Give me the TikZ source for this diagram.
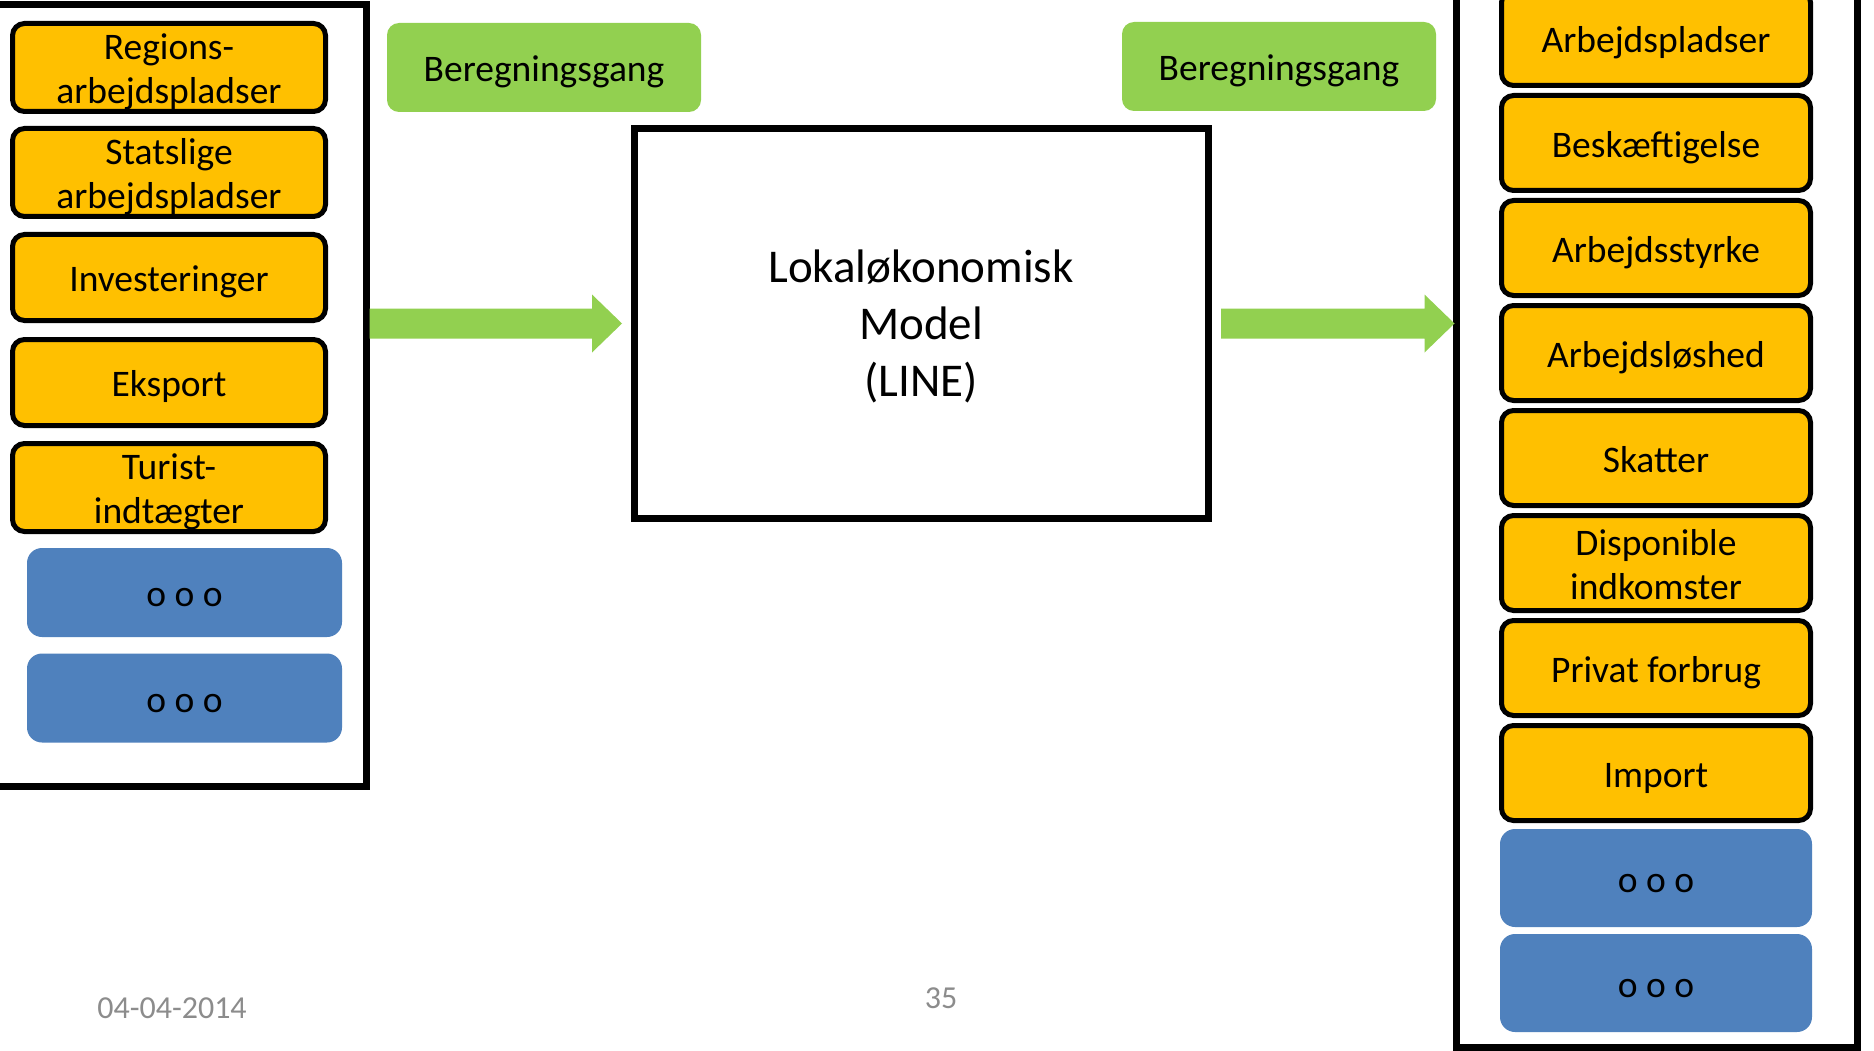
\documentclass[tikz,border=0pt]{standalone}
\usepackage{fontspec}
\setmainfont{Carlito}
\usetikzlibrary{calc}
\definecolor{boxyellow}{HTML}{FFC000}
\definecolor{boxblue}{HTML}{4F81BD}
\definecolor{boxgreen}{HTML}{92D050}
\definecolor{footgray}{HTML}{8C8C8C}
\newcommand{\boxtext}[2][-5.5pt]{\raisebox{#1}[\height][\depth]{\begin{tabular}{@{}c@{}}#2\end{tabular}}}
\tikzset{
  invar/.style={draw=black, line width=5pt, fill=boxyellow, rounded corners=12pt,
    minimum width=313pt, minimum height=86pt, inner sep=0pt,
    font=\fontsize{37.5}{44}\selectfont},
  outvar/.style={invar, minimum width=309pt, minimum height=95pt},
  dotsbox/.style={fill=boxblue, rounded corners=15pt, minimum width=315pt,
    minimum height=89pt, inner sep=0pt, font=\fontsize{37.5}{44}\selectfont},
  outerframe/.style={draw=black, line width=7pt, inner sep=0pt},
  calcbox/.style={fill=boxgreen, rounded corners=12pt, minimum width=314pt,
    minimum height=89pt, inner sep=0pt, font=\fontsize{37.5}{44}\selectfont},
  modelbox/.style={draw=black, line width=7pt, minimum width=574pt, minimum height=390pt,
    inner sep=0pt, font=\fontsize{47}{57}\selectfont},
  foot/.style={text=footgray, inner sep=0pt, font=\fontsize{32}{38}\selectfont},
  bigarrow/.style={fill=boxgreen}
}
\newcommand{\blockarrow}[2]{%
  \fill[bigarrow] ($(#1)+(0,-15)$) -- ($(#2)+(-30,-15)$) -- ($(#2)+(-30,-29)$) --
    (#2) -- ($(#2)+(-30,29)$) -- ($(#2)+(-30,15)$) -- ($(#1)+(0,15)$) -- cycle;}
\begin{document}
\begin{tikzpicture}[x=1pt, y=-1pt]
\useasboundingbox (0,0) rectangle (1874,1051);
\clip (0,0) rectangle (1874,1051);
\fill[white] (0,0) rectangle (1874,1051);

% outer frames
\node[outerframe, minimum width=386pt, minimum height=781pt] (leftframe) at (173,395.5) {};
\node[outerframe, minimum width=401pt, minimum height=1067pt] (rightframe) at (1656.5,513.5) {};

% inputs
\node[invar] (in1) at (169,67.5) {\boxtext{Regions-\\arbejdspladser}};
\node[invar] (in2) at (169,172.5) {\boxtext{Statslige\\arbejdspladser}};
\node[invar] (in3) at (169,277.5) {\boxtext{Investeringer}};
\node[invar] (in4) at (169,382.5) {\boxtext{Eksport}};
\node[invar] (in5) at (169,487.5) {\boxtext{Turist-\\indtægter}};
\node[dotsbox] (in6) at (184.5,592.5) {\boxtext{o o o}};
\node[dotsbox] (in7) at (184.5,698) {\boxtext{o o o}};

% outputs
\node[outvar] (out1) at (1656,38) {\boxtext{Arbejdspladser}};
\node[outvar] (out2) at (1656,143) {\boxtext{Beskæftigelse}};
\node[outvar] (out3) at (1656,248) {\boxtext{Arbejdsstyrke}};
\node[outvar] (out4) at (1656,353) {\boxtext{Arbejdsløshed}};
\node[outvar] (out5) at (1656,458) {\boxtext{Skatter}};
\node[outvar] (out6) at (1656,563) {\boxtext{Disponible\\indkomster}};
\node[outvar] (out7) at (1656,668) {\boxtext{Privat forbrug}};
\node[outvar] (out8) at (1656,773) {\boxtext{Import}};
\node[dotsbox, minimum width=312pt, minimum height=98pt] (out9) at (1656,878) {\boxtext{o o o}};
\node[dotsbox, minimum width=312pt, minimum height=98pt] (out10) at (1656,983) {\boxtext{o o o}};

% labels
\node[calcbox] (calcL) at (544,67.5) {\boxtext{Beregningsgang}};
\node[calcbox] (calcR) at (1279,66.5) {\boxtext{Beregningsgang}};

% model
\node[modelbox] (model) at (921,323.5) {\boxtext[-5pt]{Lokaløkonomisk\\Model\\(LINE)}};

% arrows
\coordinate (la) at (leftframe.east |- model.west);
\coordinate (lb) at ($(model.west)+(-8.5,0)$);
\coordinate (ra) at ($(model.east)+(9.5,0)$);
\coordinate (rb) at ($(rightframe.west |- model.east)+(2,0)$);
\blockarrow{la}{lb}
\blockarrow{ra}{rb}

% footer
\node[foot] (date) at (172,1008) {04-04-2014};
\node[foot] (page) at (941,998) {35};
\end{tikzpicture}
\end{document}
